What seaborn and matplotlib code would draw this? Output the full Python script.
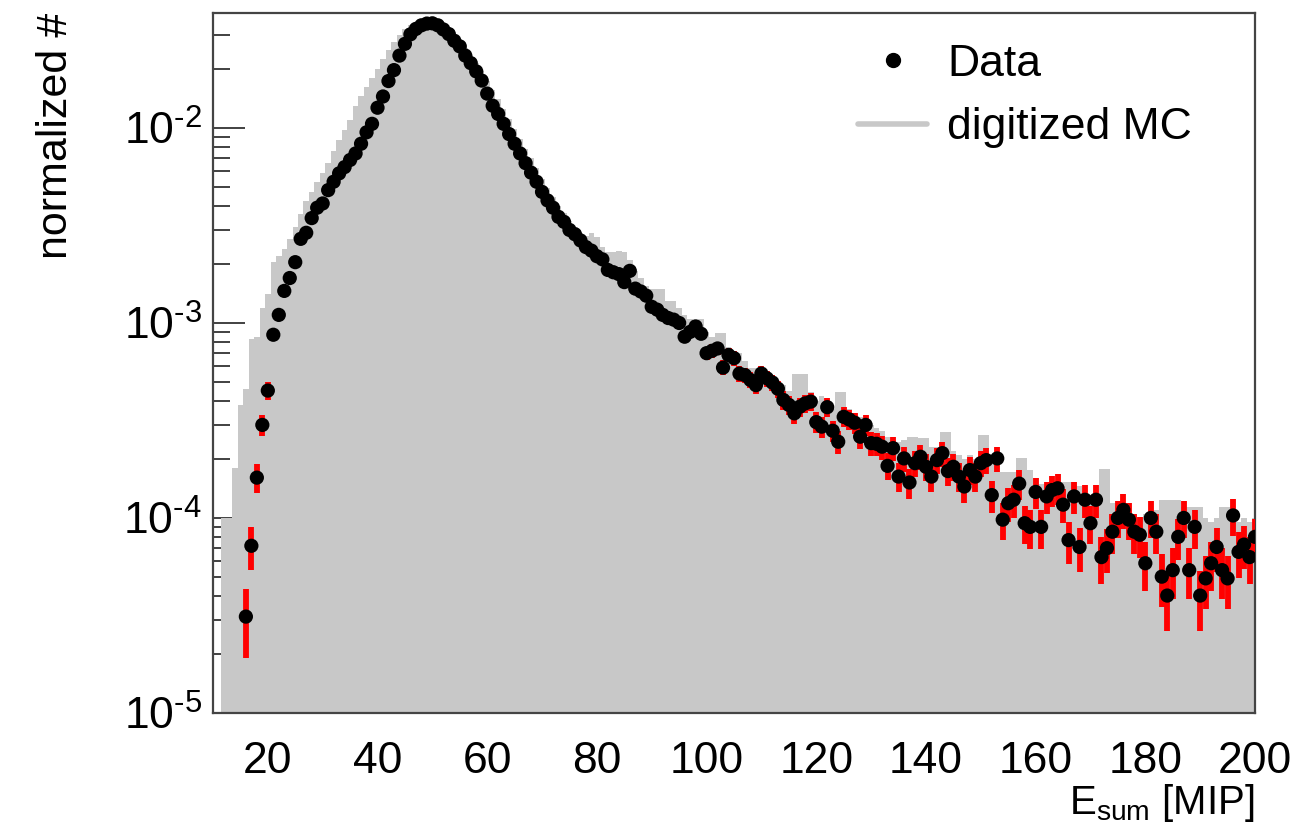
import numpy as np
import pandas as pd
import matplotlib
matplotlib.use("Agg")
import matplotlib.pyplot as plt
from matplotlib.lines import Line2D
from matplotlib.ticker import MultipleLocator, LogLocator, NullFormatter, FuncFormatter
import seaborn as sns

# ---------------- data ----------------
data_x = list(range(16, 201))
data_y = [
    3.12e-5, 7.2e-5, 1.61e-4, 3.0e-4, 4.5e-4,                      # 16-20
    8.7e-4, 1.10e-3, 1.46e-3, 1.70e-3, 2.05e-3,                    # 21-25
    2.7e-3, 2.9e-3, 3.45e-3, 3.9e-3, 4.1e-3,                       # 26-30
    4.8e-3, 5.3e-3, 5.85e-3, 6.3e-3, 6.85e-3,                      # 31-35
    7.4e-3, 8.3e-3, 9.5e-3, 1.05e-2, 1.27e-2,                      # 36-40
    1.45e-2, 1.74e-2, 1.98e-2, 2.35e-2, 2.7e-2,                    # 41-45
    3.02e-2, 3.22e-2, 3.36e-2, 3.43e-2, 3.44e-2,                   # 46-50
    3.36e-2, 3.2e-2, 3.03e-2, 2.8e-2, 2.62e-2,                     # 51-55
    2.35e-2, 2.15e-2, 1.95e-2, 1.75e-2, 1.5e-2,                    # 56-60
    1.3e-2, 1.18e-2, 1.05e-2, 9.3e-3, 8.3e-3,                      # 61-65
    7.4e-3, 6.6e-3, 5.9e-3, 5.3e-3, 4.7e-3,                        # 66-70
    4.25e-3, 3.9e-3, 3.5e-3, 3.3e-3, 3.0e-3,                       # 71-75
    2.85e-3, 2.65e-3, 2.45e-3, 2.35e-3, 2.2e-3,                    # 76-80
    2.12e-3, 1.87e-3, 1.82e-3, 1.78e-3, 1.62e-3,                   # 81-85
    1.85e-3, 1.5e-3, 1.45e-3, 1.38e-3, 1.21e-3,                    # 86-90
    1.17e-3, 1.1e-3, 1.06e-3, 1.04e-3, 1.0e-3,                     # 91-95
    8.5e-4, 9.0e-4, 9.6e-4, 8.8e-4, 7.0e-4,                        # 96-100
    7.2e-4, 7.4e-4, 5.9e-4, 6.85e-4, 6.6e-4,                       # 101-105
    5.5e-4, 5.4e-4, 5.1e-4, 4.8e-4, 5.5e-4,                        # 106-110
    5.2e-4, 4.95e-4, 4.6e-4, 4.03e-4, 3.8e-4,                      # 111-115
    3.44e-4, 3.72e-4, 3.87e-4, 3.95e-4, 3.1e-4,                    # 116-120
    2.94e-4, 3.7e-4, 2.8e-4, 2.46e-4, 3.3e-4,                      # 121-125
    3.2e-4, 3.08e-4, 2.61e-4, 3.0e-4, 2.42e-4,                     # 126-130
    2.4e-4, 2.32e-4, 1.85e-4, 2.28e-4, 1.63e-4,                    # 131-135
    2.02e-4, 1.52e-4, 1.91e-4, 2.06e-4, 1.83e-4,                   # 136-140
    1.63e-4, 1.98e-4, 2.15e-4, 1.74e-4, 1.83e-4,                   # 141-145
    1.63e-4, 1.45e-4, 1.76e-4, 1.63e-4, 1.91e-4,                   # 146-150
    1.98e-4, 1.31e-4, 2.02e-4, 9.8e-5, 1.19e-4,                    # 151-155
    1.24e-4, 1.5e-4, 9.4e-5, 9.0e-5, 1.36e-4,                      # 156-160
    9.0e-5, 1.29e-4, 1.39e-4, 1.42e-4, 1.17e-4,                    # 161-165
    7.7e-5, 1.29e-4, 7.1e-5, 1.24e-4, 9.4e-5,                      # 166-170
    1.24e-4, 6.3e-5, 7.0e-5, 8.5e-5, 1.0e-4,                       # 171-175
    1.1e-4, 9.8e-5, 8.5e-5, 8.2e-5, 5.86e-5,                       # 176-180
    1.0e-4, 8.5e-5, 5.0e-5, 4.0e-5, 5.4e-5,                        # 181-185
    8.0e-5, 1.0e-4, 5.4e-5, 9.0e-5, 4.0e-5,                        # 186-190
    4.9e-5, 5.86e-5, 7.1e-5, 5.4e-5, 4.9e-5,                       # 191-195
    1.03e-4, 6.7e-5, 7.3e-5, 6.3e-5, 8.0e-5,                       # 196-200
]
# number of events behind the normalisation (Poisson error bars)
n_events = 217000

mc_x = list(range(12, 201))
mc_y = [
    1.0e-4, 1.0e-4, 1.8e-4, 3.8e-4, 4.6e-4,                        # 12-16
    8.3e-4, 8.5e-4, 1.2e-3, 1.4e-3, 2.05e-3,                       # 17-21
    2.2e-3, 2.4e-3, 2.7e-3, 3.1e-3, 3.6e-3,                        # 22-26
    4.2e-3, 4.7e-3, 5.3e-3, 5.9e-3, 6.6e-3,                        # 27-31
    7.6e-3, 8.7e-3, 9.8e-3, 1.1e-2, 1.3e-2,                        # 32-36
    1.45e-2, 1.62e-2, 1.8e-2, 2.0e-2, 2.25e-2,                     # 37-41
    2.5e-2, 2.75e-2, 3.0e-2, 3.2e-2, 3.38e-2,                      # 42-46
    3.5e-2, 3.56e-2, 3.58e-2, 3.55e-2, 3.47e-2,                    # 47-51
    3.34e-2, 3.18e-2, 3.0e-2, 2.8e-2, 2.58e-2,                     # 52-56
    2.37e-2, 2.15e-2, 1.95e-2, 1.75e-2, 1.57e-2,                   # 57-61
    1.4e-2, 1.25e-2, 1.11e-2, 9.9e-3, 8.8e-3,                      # 62-66
    7.8e-3, 7.0e-3, 6.2e-3, 5.5e-3, 4.9e-3,                        # 67-71
    4.4e-3, 4.0e-3, 3.65e-3, 3.35e-3, 3.1e-3,                      # 72-76
    2.9e-3, 2.8e-3, 2.9e-3, 2.75e-3, 2.45e-3,                      # 77-81
    2.3e-3, 2.3e-3, 2.35e-3, 2.3e-3, 2.1e-3,                       # 82-86
    1.85e-3, 1.7e-3, 1.55e-3, 1.5e-3, 1.5e-3,                      # 87-91
    1.5e-3, 1.3e-3, 1.3e-3, 1.2e-3, 1.1e-3,                        # 92-96
    1.05e-3, 1.0e-3, 1.05e-3, 9.0e-4, 8.5e-4,                      # 97-101
    8.9e-4, 8.9e-4, 7.5e-4, 7.0e-4, 7.0e-4,                        # 102-106
    6.4e-4, 5.9e-4, 5.9e-4, 5.9e-4, 5.6e-4,                        # 107-111
    5.4e-4, 5.0e-4, 4.8e-4, 4.5e-4, 5.5e-4,                        # 112-116
    5.5e-4, 5.5e-4, 4.4e-4, 4.0e-4, 4.2e-4,                        # 117-121
    3.8e-4, 3.6e-4, 4.45e-4, 4.45e-4, 3.6e-4,                      # 122-126
    3.4e-4, 3.3e-4, 3.2e-4, 3.0e-4, 2.9e-4,                        # 127-131
    2.8e-4, 2.6e-4, 2.5e-4, 2.45e-4, 2.5e-4,                       # 132-136
    2.6e-4, 2.6e-4, 2.57e-4, 2.57e-4, 2.3e-4,                      # 137-141
    2.3e-4, 2.76e-4, 2.76e-4, 2.2e-4, 2.1e-4,                      # 142-146
    2.0e-4, 2.1e-4, 2.0e-4, 2.67e-4, 2.67e-4,                      # 147-151
    2.0e-4, 1.72e-4, 1.72e-4, 1.72e-4, 1.72e-4,                    # 152-156
    2.03e-4, 2.03e-4, 1.76e-4, 1.6e-4, 1.5e-4,                     # 157-161
    1.45e-4, 1.5e-4, 1.53e-4, 1.53e-4, 1.53e-4,                    # 162-166
    1.53e-4, 1.45e-4, 1.35e-4, 1.3e-4, 1.25e-4,                    # 167-171
    1.78e-4, 1.78e-4, 1.2e-4, 1.2e-4, 1.15e-4,                     # 172-176
    1.1e-4, 1.05e-4, 1.0e-4, 1.05e-4, 1.1e-4,                      # 177-181
    1.1e-4, 1.24e-4, 1.24e-4, 1.24e-4, 1.24e-4,                    # 182-186
    1.14e-4, 1.14e-4, 1.14e-4, 1.14e-4, 1.0e-4,                    # 187-191
    9.5e-5, 1.0e-4, 1.14e-4, 1.14e-4, 1.0e-4,                      # 192-196
    9.5e-5, 1.0e-4, 9.5e-5, 1.0e-4,                                # 197-200
]

x_ticks = [20, 40, 60, 80, 100, 120, 140, 160, 180, 200]
labels = ["Data", "digitized MC"]

# ---------------- style ----------------
sns.set_style("ticks")
plt.rcParams["font.family"] = ["Liberation Sans", "DejaVu Sans"]
plt.rcParams["mathtext.default"] = "regular"
plt.rcParams["axes.unicode_minus"] = False
plt.rcParams["text.color"] = "black"
plt.rcParams["axes.labelcolor"] = "black"

fig = plt.figure(figsize=(13.05, 8.25), dpi=100)
ax = fig.add_axes([0.1632, 0.1358, 0.7985, 0.8485])
ax.set_yscale("log")

mc_df = pd.DataFrame({"E": np.asarray(mc_x, dtype=float),
                      "w": np.asarray(mc_y, dtype=float)})
sns.histplot(data=mc_df, x="E", weights="w", binwidth=1.0,
             binrange=(mc_x[0] - 0.5, mc_x[-1] + 0.5), element="step",
             fill=True, color="#c8c8c8", alpha=1.0, linewidth=0, ax=ax,
             zorder=1)

data_df = pd.DataFrame({"E": np.asarray(data_x, dtype=float),
                        "y": np.asarray(data_y, dtype=float)})
err = np.sqrt(data_df["y"] * n_events) / n_events
ax.errorbar(data_df["E"], data_df["y"], yerr=err, fmt="none", ecolor="#ff0000",
            elinewidth=4.2, capsize=0, zorder=3)
sns.scatterplot(data=data_df, x="E", y="y", color="black", s=105,
                edgecolor="none", ax=ax, zorder=4, legend=False)

ax.set_xlim(10, 200)
ax.set_ylim(1e-5, 10 ** (-5 + 700 / 195))

ax.set_xticks(x_ticks)
ax.set_xticklabels([str(t) for t in x_ticks])
ax.xaxis.set_minor_locator(MultipleLocator(5))
ax.yaxis.set_major_locator(LogLocator(base=10))
ax.yaxis.set_minor_locator(LogLocator(base=10, subs=np.arange(2, 10)))
ax.yaxis.set_minor_formatter(NullFormatter())


def decade_label(v, pos):
    e = int(round(np.log10(v)))
    sign = "\u2010" if e < 0 else ""
    return r"$\mathregular{10^{%s%d}}$" % (sign, abs(e))


ax.yaxis.set_major_formatter(FuncFormatter(decade_label))

ax.tick_params(axis="both", which="both", direction="in", top=False, right=False,
               color="#333333", width=1.3, labelsize=32, labelcolor="black")
ax.tick_params(axis="x", which="major", length=14, pad=20)
ax.tick_params(axis="x", which="minor", length=7)
ax.tick_params(axis="y", which="major", length=23, pad=8)
ax.tick_params(axis="y", which="minor", length=12)

for sp in ax.spines.values():
    sp.set_visible(True)
    sp.set_color("#444444")
    sp.set_linewidth(1.6)

ax.set_xlabel(r"$\mathregular{E_{sum}}$ [MIP]", fontsize=29, loc="right", labelpad=0)
ax.set_ylabel("normalized #", fontsize=31, loc="top", labelpad=34)

handles = [
    Line2D([], [], marker="o", color="black", linestyle="none", markersize=10),
    Line2D([], [], color="#c8c8c8", lw=4),
]
ax.legend(handles, labels, loc="upper left", bbox_to_anchor=(0.581, 1.013),
          frameon=False, fontsize=32, handlelength=1.55, labelspacing=0.5,
          handletextpad=0.45)

fig.savefig("out.png", dpi=100)
